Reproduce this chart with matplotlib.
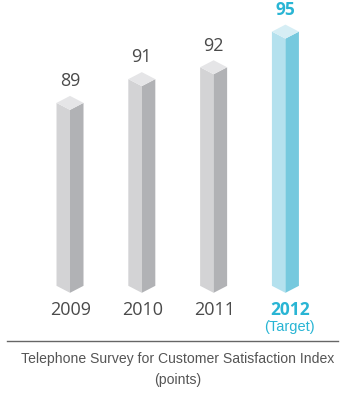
import matplotlib
matplotlib.use("Agg")
import matplotlib.pyplot as plt
from matplotlib.patches import Polygon
from matplotlib.lines import Line2D
import matplotlib.transforms as mtransforms

years = ["2009", "2010", "2011", "2012"]
scores = [89, 91, 92, 95]
target_note = "(Target)"
caption = ["Telephone Survey for Customer Satisfaction Index", "(points)"]

W, H = 342, 397
DPI = 100
gray = {"front": "#d3d3d5", "side": "#b1b2b5", "top": "#e5e5e7"}
blue = {"front": "#b4e1ee", "side": "#76c9de", "top": "#d6eef5"}
txt_gray = "#4a4a4a"
txt_blue = "#29b5d4"
num_font = ["Open Sans", "DejaVu Sans"]
cap_font = ["Liberation Sans", "DejaVu Sans"]

fig = plt.figure(figsize=(W / DPI, H / DPI), dpi=DPI)
ax = fig.add_axes([0, 0, 1, 1])
ax.set_xlim(-0.975, 3.788)
ax.set_ylim(64.83, 98.25)
ax.axis("off")

# pixel -> data unit sizes
px_x = (3.788 + 0.975) / W
px_y = (98.25 - 64.83) / H
half_w = 13.5 * px_x
rh = 7 * px_y
base = 73.6

for i, (yr, v) in enumerate(zip(years, scores)):
    c = blue if yr == "2012" else gray
    x0, x1, x2 = i - half_w, i, i + half_w
    front = [(x0, base + rh), (x1, base), (x1, v), (x0, v + rh)]
    side = [(x1, base), (x2, base + rh), (x2, v + rh), (x1, v)]
    top = [(x0, v + rh), (x1, v), (x2, v + rh), (x1, v + 2 * rh)]
    ax.add_patch(Polygon(front, closed=True, fc=c["front"], ec="none"))
    ax.add_patch(Polygon(side, closed=True, fc=c["side"], ec="none"))
    ax.add_patch(Polygon(top, closed=True, fc=c["top"], ec="none"))

    last = yr == "2012"
    ax.annotate(str(v), (i, v + 2 * rh), xytext=(0, 7), textcoords="offset points",
                ha="center", va="baseline", fontsize=13 if not last else 12.5,
                fontweight="bold" if last else "normal",
                color=txt_blue if last else txt_gray, family=num_font)

    trans = mtransforms.blended_transform_factory(ax.transData, fig.transFigure)
    xl = i + (4.5 * px_x if last else 1 * px_x)
    ax.text(xl, 1 - 315 / H, yr, transform=trans, ha="center", va="baseline",
            fontsize=13 if not last else 12.5, fontweight="bold" if last else "normal",
            color=txt_blue if last else txt_gray, family=num_font)
    if last:
        ax.text(xl, 1 - 331 / H, target_note, transform=trans, ha="center", va="baseline",
                fontsize=10.5, color=txt_blue, family=cap_font)

fig.add_artist(Line2D([7 / W, 338 / W], [1 - 341 / H, 1 - 341 / H],
                      transform=fig.transFigure, color="#666666", lw=1.0))
fig.text(178 / W, 1 - 363 / H, caption[0], ha="center", va="baseline",
         fontsize=10.1, color="#555555", family=cap_font)
fig.text(178 / W, 1 - 384 / H, caption[1], ha="center", va="baseline",
         fontsize=10.1, color="#555555", family=cap_font)

fig.savefig("out.png", dpi=DPI)
